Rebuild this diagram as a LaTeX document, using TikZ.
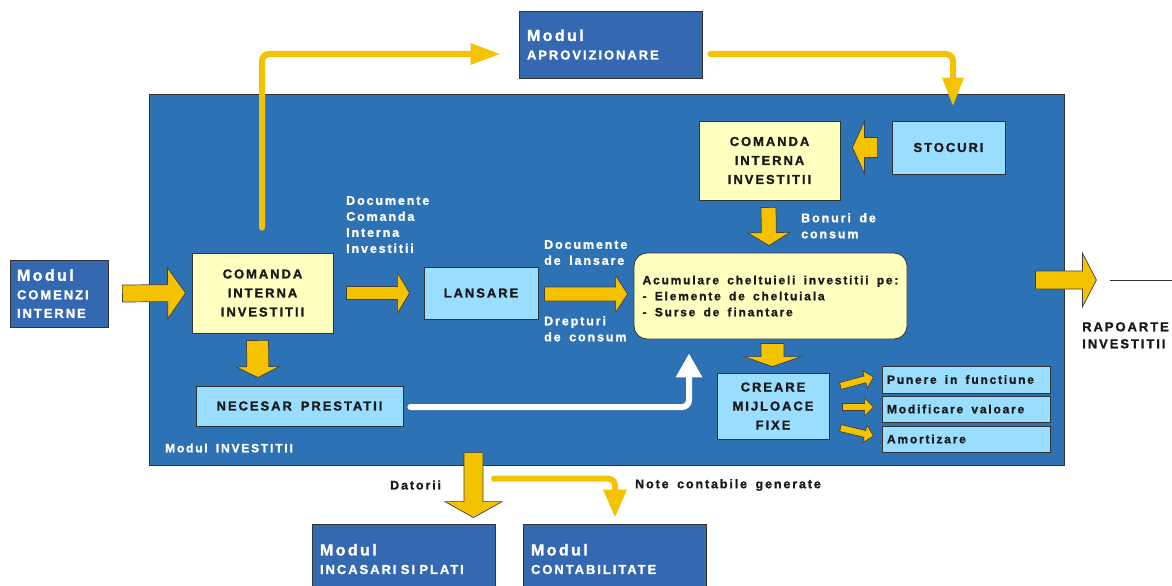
\documentclass[tikz,border=0pt]{standalone}
\usepackage{fontspec}
\setmainfont{Liberation Sans}[LetterSpace=15, WordSpace=1.6, BoldFeatures={FakeBold=1.3}]
\usetikzlibrary{calc,arrows.meta}
\definecolor{mainblue}{HTML}{2E72B6}
\definecolor{modblue}{HTML}{3468B0}
\definecolor{lyellow}{HTML}{FFFFC0}
\definecolor{lblue}{HTML}{99DDFF}
\definecolor{arrowy}{HTML}{F5C200}
\definecolor{dtext}{HTML}{1A1A1A}
\newcommand\fatarrow[5]{%
  \coordinate (fah) at ($(#2)!#5!(#1)$);
  \filldraw[fatarrowsty] ($(#1)!#3!90:(#2)$) -- ($(fah)!#3!90:(#2)$) -- ($(fah)!#4!90:(#2)$) -- (#2) -- ($(fah)!#4!-90:(#2)$) -- ($(fah)!#3!-90:(#2)$) -- ($(#1)!#3!-90:(#2)$) -- cycle;}
\newcommand\modtxt[1]{{\fontsize{16}{18.5}\selectfont Modul}\\\mbox{#1}}
\newcommand\stxt[1]{\makebox[158pt][l]{#1}}
\begin{document}
\begin{tikzpicture}[x=1pt,y=-1pt,
  every node/.style={font=\bfseries, inner sep=0pt},
  fatarrowsty/.style={fill=arrowy, draw=black!75, line width=0.7pt, line join=miter},
  modbox/.style={draw=black!80, line width=0.8pt, fill=modblue, text=white, align=left, font=\bfseries\fontsize{13}{18.5}\selectfont},
  ybox/.style={draw=black!80, line width=0.8pt, fill=lyellow, text=dtext, align=center, font=\bfseries\fontsize{13}{19}\selectfont},
  bbox/.style={draw=black!80, line width=0.8pt, fill=lblue, text=dtext, align=center, font=\bfseries\fontsize{13}{19}\selectfont},
  sbox/.style={draw=black!80, line width=0.8pt, fill=lblue, text=dtext, minimum width=168pt, font=\bfseries\fontsize{12}{14}\selectfont},
  wlabel/.style={text=white, align=left, font=\bfseries\fontsize{12.5}{16}\selectfont},
  dlabel/.style={text=dtext, align=left, font=\bfseries\fontsize{12.5}{16}\selectfont},
  yline/.style={draw=arrowy, line width=6pt, rounded corners=7pt, line cap=round},
  wline/.style={draw=white, line width=6pt, rounded corners=7pt, line cap=round}
]
\useasboundingbox (0,0) rectangle (1172,586);
\fill[white] (0,0) rectangle (1172,586);
% main module
\node[draw=black!80, line width=0.8pt, fill=mainblue, minimum width=915pt, minimum height=371pt] (main) at (606.5,279.5) {};
\node[wlabel, anchor=west, font=\bfseries\fontsize{12}{16}\selectfont] (invlbl) at (165,448) {Modul INVESTITII};
% outer modules
\node[modbox, minimum width=183pt, minimum height=67pt, text width=167pt] (aprov) at (610.5,44.5) {\modtxt{APROVIZIONARE}};
\node[modbox, minimum width=98pt, minimum height=67pt, text width=84pt] (comenzi) at (59,293.5) {\modtxt{COMENZI}\\INTERNE};
\node[modbox, minimum width=183pt, minimum height=70pt, text width=167pt] (incasari) at (403.5,559) {\modtxt{INCASARI SI PLATI}};
\node[modbox, minimum width=183pt, minimum height=70pt, text width=167pt] (contab) at (614.5,559) {\modtxt{CONTABILITATE}};
% inner boxes
\node[ybox, minimum width=141pt, minimum height=80pt] (cmd1) at (262.5,293) {COMANDA\\INTERNA\\INVESTITII};
\node[bbox, minimum width=114pt, minimum height=52pt] (lansare) at (481,293) {LANSARE};
\node[bbox, minimum width=207pt, minimum height=40pt] (necesar) at (299.5,406) {NECESAR PRESTATII};
\node[ybox, minimum width=141pt, minimum height=79pt] (cmd2) at (769.5,160.5) {COMANDA\\INTERNA\\INVESTITII};
\node[bbox, minimum width=113pt, minimum height=53pt] (stocuri) at (948.5,147.5) {STOCURI};
\node[draw=black!80, line width=0.8pt, fill=lyellow, rounded corners=13pt, minimum width=273pt, minimum height=86pt, align=left, text=dtext, font=\bfseries\fontsize{12}{16}\selectfont] (acum) at (770.5,296) {Acumulare cheltuieli investitii pe:\\- Elemente de cheltuiala\\- Surse de finantare};
\node[bbox, minimum width=112pt, minimum height=66pt] (creare) at (773,406) {CREARE\\MIJLOACE\\FIXE};
\node[sbox, minimum height=27pt] (punere) at (966,379.5) {\stxt{Punere in functiune}};
\node[sbox, minimum height=26pt] (modif) at (966,409) {\stxt{Modificare valoare}};
\node[sbox, minimum height=26pt] (amort) at (966,439) {\stxt{Amortizare}};
% labels
\node[wlabel, anchor=north west] (l1) at (346,196) {Documente\\Comanda\\Interna\\Investitii};
\node[wlabel, anchor=north west] (l2) at (544,240) {Documente\\de lansare};
\node[wlabel, anchor=north west] (l3) at (544,316) {Drepturi\\de consum};
\node[wlabel, anchor=north west] (l4) at (801,213) {Bonuri de\\consum};
\node[dlabel, anchor=west] (l5) at (390,485) {Datorii};
\node[dlabel, anchor=west] (l6) at (635,485) {Note contabile generate};
\node[text=dtext, align=left, anchor=north west, font=\bfseries\fontsize{13}{17}\selectfont] (rap) at (1082,322) {RAPOARTE\\INVESTITII};
% fat arrows
\coordinate (a1s) at ($(comenzi.east)+(14,0)$); \coordinate (a1t) at ($(cmd1.west)+(-6,0)$);
\fatarrow{a1s}{a1t}{8.5pt}{25.5pt}{18pt}
\coordinate (a2s) at ($(cmd1.east)+(13,0)$); \coordinate (a2t) at ($(lansare.west)+(-14,0)$);
\fatarrow{a2s}{a2t}{6.5pt}{20pt}{12pt}
\coordinate (a3s) at ($(lansare.east)+(6,1)$); \coordinate (a3t) at ($(acum.west)+(-6,-2)$);
\fatarrow{a3s}{a3t}{7pt}{18.5pt}{12pt}
\coordinate (a4s) at ($(cmd1.south)+(-5,7)$); \coordinate (a4t) at ($(necesar.north)+(-41.5,-8)$);
\fatarrow{a4s}{a4t}{11pt}{21.5pt}{11pt}
\coordinate (a5s) at ($(stocuri.west)+(-14,0)$); \coordinate (a5t) at ($(cmd2.east)+(12,-13)$);
\fatarrow{a5s}{a5t}{10pt}{26pt}{12pt}
\coordinate (a6s) at ($(cmd2.south)+(-1,7)$); \coordinate (a6t) at ($(acum.north)+(-1.5,-7)$);
\fatarrow{a6s}{a6t}{7.5pt}{21pt}{13pt}
\coordinate (a7s) at ($(acum.south)+(2,4)$); \coordinate (a7t) at ($(creare.north)+(-0.5,-6)$);
\fatarrow{a7s}{a7t}{11.5pt}{28.5pt}{10pt}
\coordinate (a8s) at ($(main.east)+(-29,0.5)$); \coordinate (a8t) at ($(main.east)+(32,0.5)$);
\fatarrow{a8s}{a8t}{9pt}{27pt}{14pt}
\coordinate (a9s) at ($(incasari.north)+(70,-71)$); \coordinate (a9t) at ($(incasari.north)+(70,-6)$);
\fatarrow{a9s}{a9t}{9.5pt}{28.5pt}{16pt}
\coordinate (b1s) at ($(creare.east)+(11,-20)$); \coordinate (b1t) at ($(punere.west)+(-8,-2.5)$);
\fatarrow{b1s}{b1t}{3.5pt}{9pt}{9pt}
\coordinate (b2s) at ($(creare.east)+(13,1)$); \coordinate (b2t) at ($(modif.west)+(-8,-2)$);
\fatarrow{b2s}{b2t}{3.5pt}{9pt}{9pt}
\coordinate (b3s) at ($(creare.east)+(11,22)$); \coordinate (b3t) at ($(amort.west)+(-8,-3)$);
\fatarrow{b3s}{b3t}{3.5pt}{9pt}{9pt}
% line arrows
\coordinate (c1s) at ($(cmd1.north)+(-0.5,-25)$); \coordinate (c1t) at ($(aprov.west)+(-18,9.5)$);
\draw[yline, -{Triangle[length=30pt,width=20pt]}] (c1s) |- (c1t);
\coordinate (c2s) at ($(aprov.east)+(8,9.5)$); \coordinate (c2t) at ($(stocuri.north)+(4.5,-14)$);
\draw[yline, -{Triangle[length=29pt,width=20pt]}] (c2s) -| (c2t);
\coordinate (c3s) at ($(necesar.east)+(7,1)$); \coordinate (c3t) at ($(acum.south)+(-81.5,14)$);
\draw[wline, -{Triangle[length=24pt,width=25pt]}] (c3s) -| (c3t);
\coordinate (c4s) at ($(a9s)+(20.5,26)$); \coordinate (c4t) at ($(contab.north)+(0.5,-6)$);
\draw[yline, -{Triangle[length=28pt,width=22pt]}] (c4s) -| (c4t);
\coordinate (c5s) at ($(a8t)+(14,0)$); \coordinate (c5t) at ($(a8t)+(90,0)$);
\draw[black!80, line width=1pt] (c5s) -- (c5t);
\end{tikzpicture}
\end{document}
